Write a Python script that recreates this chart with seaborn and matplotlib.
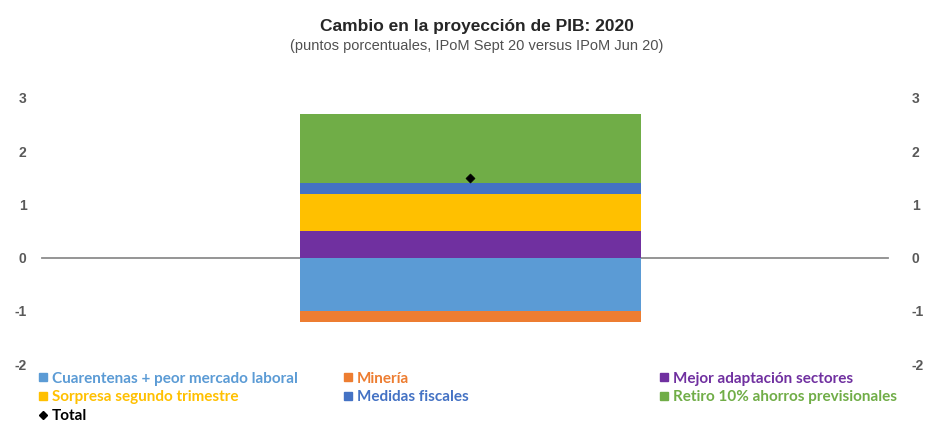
import pandas as pd
import matplotlib.pyplot as plt
import seaborn as sns
from matplotlib.lines import Line2D

# =====================================================
# Data (percentage points, IPoM Sept 20 vs IPoM Jun 20)
# =====================================================

components = [
    "Cuarentenas + peor mercado laboral",
    "Minería",
    "Mejor adaptación sectores",
    "Sorpresa segundo trimestre",
    "Medidas fiscales",
    "Retiro 10% ahorros previsionales",
]
values = [-1.0, -0.2, 0.5, 0.7, 0.2, 1.3]
total = 1.5
colors = ["#5B9BD5", "#ED7D31", "#7030A0", "#FFC000", "#4472C4", "#70AD47"]
yticks = [-2, -1, 0, 1, 2, 3]

df = pd.DataFrame({"component": components, "value": values, "color": colors})

# cumulative tops, split by sign (stacked bar drawn as overlapping bars)
pos = df[df["value"] > 0].copy()
pos["top"] = pos["value"].cumsum()
neg = df[df["value"] < 0].copy()
neg["top"] = neg["value"].cumsum()

# =====================================================
# Figure
# =====================================================

sns.set_theme(style="white")
plt.rcParams["font.family"] = ["Liberation Sans", "DejaVu Sans"]

fig = plt.figure(figsize=(9.28, 4.22), dpi=100)
ax = fig.add_axes([0.045, 0.137, 0.912, 0.631])

# largest first so the smaller bars sit on top
for layer in [pos.iloc[::-1], neg.iloc[::-1]]:
    for _, row in layer.iterrows():
        sns.barplot(
            x=[""],
            y=[row["top"]],
            color=row["color"],
            saturation=1,
            width=0.403,
            linewidth=0,
            ax=ax,
        )

sns.scatterplot(
    x=[""], y=[total], marker="D", s=22, color="black",
    edgecolor="black", zorder=5, ax=ax,
)

ax.set_xlim(-0.5065, 0.4935)
ax.set_ylim(-2, 3)
ax.set_yticks(yticks)
ax.set_yticklabels([str(t) for t in yticks])
ax.set_xticks([-0.5065, 0.4935])
ax.set_xticklabels([])
ax.set_xlabel("")
ax.set_ylabel("")

for side in ["top", "left", "right"]:
    ax.spines[side].set_visible(False)
ax.spines["bottom"].set_position(("data", 0))
ax.spines["bottom"].set_color("#8c8c8c")
ax.spines["bottom"].set_linewidth(1.3)
ax.spines["bottom"].set_zorder(0.5)
ax.tick_params(axis="x", length=4, width=1.3, color="#8c8c8c", direction="out")
ax.tick_params(axis="y", length=0, pad=11, labelsize=10, labelcolor="#595959")
for lbl in ax.get_yticklabels():
    lbl.set_fontweight("bold")

ax2 = ax.twinx()
ax2.set_ylim(-2, 3)
ax2.set_yticks(yticks)
ax2.set_yticklabels([str(t) for t in yticks])
ax2.tick_params(axis="y", length=0, pad=17, labelsize=10, labelcolor="#595959")
for lbl in ax2.get_yticklabels():
    lbl.set_fontweight("bold")
for side in ["top", "left", "right", "bottom"]:
    ax2.spines[side].set_visible(False)

# =====================================================
# Titles
# =====================================================

fig.text(0.514, 0.937, "Cambio en la proyección de PIB: 2020",
         ha="center", va="center", fontsize=12.5, fontweight="bold",
         color="#262626")
fig.text(0.514, 0.891,
         "(puntos porcentuales, IPoM Sept 20 versus IPoM Jun 20)",
         ha="center", va="center", fontsize=10.5, color="#505050")

# =====================================================
# Legend (three columns, coloured text)
# =====================================================

columns = [
    ([0, 3], 0.031),
    ([1, 4], 0.360),
    ([2, 5], 0.701),
]

for idx, xpos in columns:
    handles = [
        Line2D([], [], marker="s", linestyle="", markersize=6,
               color=colors[i], label=components[i])
        for i in idx
    ]
    if xpos < 0.1:
        handles.append(
            Line2D([], [], marker="D", linestyle="", markersize=4,
                   color="black", label="Total")
        )
    leg = fig.legend(
        handles=handles,
        loc="upper left",
        bbox_to_anchor=(xpos, 0.137),
        frameon=False,
        handletextpad=0.2,
        handlelength=0.8,
        labelspacing=0.3,
        borderpad=0,
        prop={"family": ["Lato", "DejaVu Sans"], "size": 11,
              "weight": "bold"},
    )
    for text, h in zip(leg.get_texts(), handles):
        text.set_color(h.get_color())

fig.savefig("out.png", dpi=100)
plt.close(fig)
